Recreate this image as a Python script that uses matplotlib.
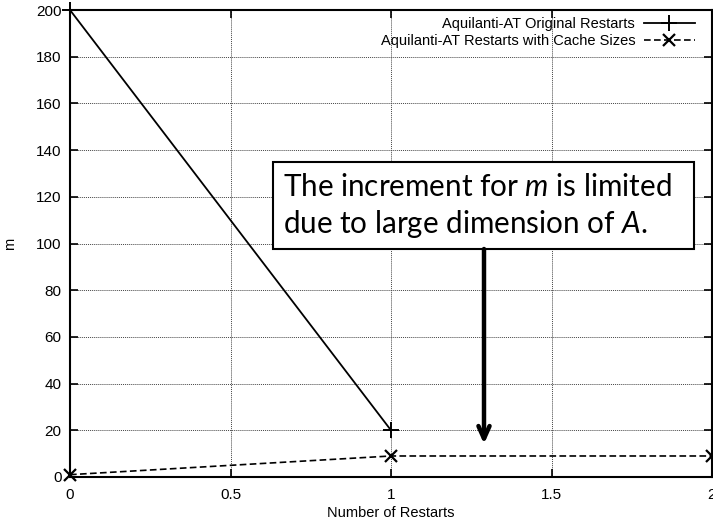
import matplotlib
matplotlib.use("Agg")
import matplotlib.pyplot as plt
from matplotlib.patches import Rectangle

# data
restarts_orig = [0, 1]
m_orig = [200, 20]
restarts_cache = [0, 1, 2]
m_cache = [1, 9, 9]

xticks = [0, 0.5, 1, 1.5, 2]
xtick_labels = ["0", "0.5", "1", "1.5", "2"]
yticks = list(range(0, 201, 20))

label_orig = "Aquilanti-AT Original Restarts"
label_cache = "Aquilanti-AT Restarts with Cache Sizes"
note_lines = ["The increment for $m$ is limited", "due to large dimension of $A$."]

plt.rcParams["font.family"] = ["Liberation Sans", "DejaVu Sans"]
plt.rcParams["mathtext.fontset"] = "custom"
plt.rcParams["mathtext.rm"] = "Lato"
plt.rcParams["mathtext.it"] = "Lato:italic"

W, H = 713, 529
fig = plt.figure(figsize=(W / 100, H / 100), dpi=100)
ax = fig.add_axes([70 / W, (H - 477) / H, (712 - 70) / W, (477 - 10) / H])

ax.plot(restarts_orig, m_orig, color="black", lw=1.3, marker="+",
        markersize=11, markeredgewidth=1.4, label=label_orig, clip_on=False)
ax.plot(restarts_cache, m_cache, color="black", lw=1.2, ls=(0, (4, 2)),
        marker="x", markersize=9, markeredgewidth=1.6, label=label_cache,
        clip_on=False)

ax.set_xlim(0, 2)
ax.set_ylim(0, 200)
ax.set_xticks(xticks)
ax.set_xticklabels(xtick_labels)
ax.set_yticks(yticks)
ax.tick_params(direction="in", top=True, right=True, length=6, width=1.2,
               labelsize=11)
ax.tick_params(axis="x", pad=8)
ax.tick_params(axis="y", pad=6)
ax.grid(True, color="#444444", lw=0.7, ls=(0, (1, 1)))
for s in ax.spines.values():
    s.set_linewidth(1.5)

ax.set_xlabel("Number of Restarts", fontsize=10.5, labelpad=3)
ax.set_ylabel("m", fontsize=10.5, labelpad=14)

ax.legend(loc="upper right", bbox_to_anchor=(695 / W, (H - 17) / H),
          bbox_transform=fig.transFigure, frameon=False, markerfirst=False,
          fontsize=10.5, handlelength=3.5, handletextpad=0.6,
          labelspacing=0.2, borderpad=0, borderaxespad=0)

# annotation box with arrow
xpx = 2 / 642
ypx = 200 / 467
box_x0 = (273 - 70) * xpx
box_x1 = (694 - 70) * xpx
box_y0 = (477 - 249) * ypx
box_y1 = (477 - 162) * ypx
ax.add_patch(Rectangle((box_x0, box_y0), box_x1 - box_x0, box_y1 - box_y0,
                       facecolor="white", edgecolor="black", lw=1.5, zorder=5))
ax.text((283 - 70) * xpx, (477 - 196) * ypx, note_lines[0], family="Lato",
        fontsize=21.3, va="baseline", ha="left", zorder=6)
ax.text((283 - 70) * xpx, (477 - 233) * ypx, note_lines[1], family="Lato",
        fontsize=21.3, va="baseline", ha="left", zorder=6)

arrow_x = (484 - 70) * xpx
ax.annotate("", xy=(arrow_x, (477 - 444) * ypx), xytext=(arrow_x, box_y0),
            arrowprops=dict(arrowstyle="->,head_length=0.9,head_width=0.4",
                            lw=3.2, color="black", shrinkA=0, shrinkB=0),
            zorder=6)

fig.savefig("out.png", dpi=100)
